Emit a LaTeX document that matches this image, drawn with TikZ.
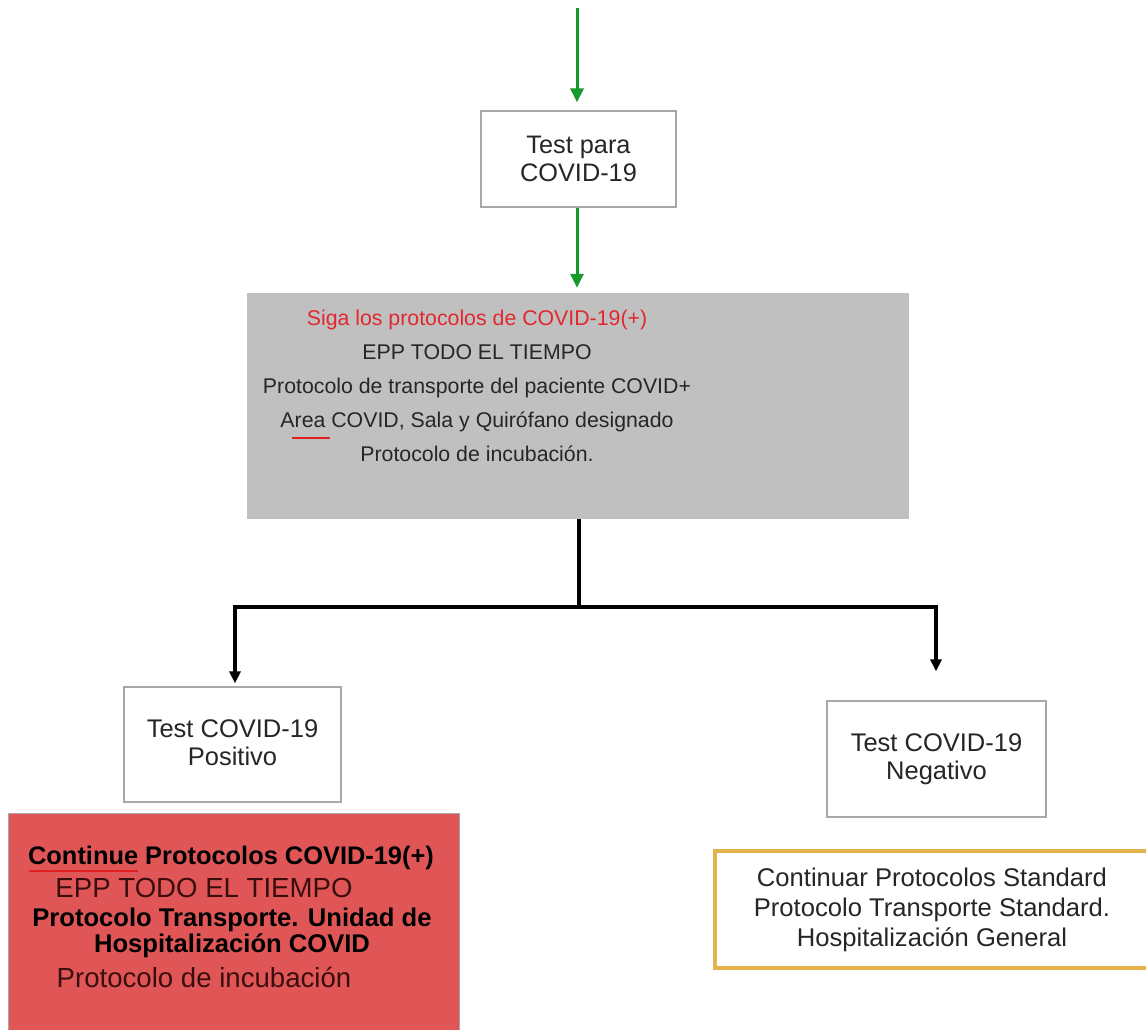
\documentclass[tikz,border=0pt]{standalone}
\usepackage{fontspec}
\setmainfont{Liberation Sans}
\usetikzlibrary{arrows.meta}
\definecolor{arrowgreen}{HTML}{17992C}
\definecolor{boxgray}{HTML}{C0C0C0}
\definecolor{boxred}{HTML}{E05656}
\definecolor{boxgold}{HTML}{E3B44C}
\definecolor{edgegray}{HTML}{A8A8A8}
\definecolor{textred}{HTML}{E0282E}
\definecolor{darkredtext}{HTML}{3A0E0E}
\definecolor{squiggle}{HTML}{E02020}
\tikzset{
  whitebox/.style={draw=edgegray, line width=1.2pt, fill=white, minimum width=#1, inner sep=0pt},
  greenarrow/.style={draw=arrowgreen, line width=3pt, -{Triangle[width=13pt,length=14pt]}},
  blackline/.style={draw=black, line width=3.5pt},
  blackarrow/.style={draw=black, line width=3.5pt, -{Triangle[width=11pt,length=12pt]}},
  txt/.style={inner sep=0pt, align=center, text=#1},
  spell/.style={draw=squiggle, line width=1.5pt},
}
\begin{document}
\begin{tikzpicture}[x=1pt,y=-1pt]
\clip (0,0) rectangle (1146,1029);
\fill[white] (0,0) rectangle (1146,1029);

% boxes
\node[whitebox=195pt, minimum height=96pt] (t1) at (578.5,159) {};
\node[draw=none, fill=boxgray, minimum width=662pt, minimum height=226pt, inner sep=0pt] (gray) at (578,406) {};
\node[whitebox=217pt, minimum height=115pt] (pos) at (232.5,744.5) {};
\node[whitebox=219pt, minimum height=116pt] (neg) at (936.5,759) {};
\node[draw=edgegray, line width=1.2pt, fill=boxred, minimum width=451pt, minimum height=220pt, inner sep=0pt, anchor=north west] (red) at (8,813) {};
\node[draw=boxgold, line width=4pt, fill=white, minimum width=440pt, minimum height=117pt, inner sep=0pt, anchor=north west] (std) at (713,849) {};

% texts
\node[txt=black!85, font=\fontsize{25.3}{28}\selectfont] (t1txt) at (t1.center) {Test para\\COVID-19};
\node[txt=black!85, font=\fontsize{25.5}{28}\selectfont] (postxt) at ([yshift=2pt]pos.center) {Test COVID-19\\Positivo};
\node[txt=black!85, font=\fontsize{25.5}{28}\selectfont] (negtxt) at (neg.center) {Test COVID-19\\Negativo};

\node[txt=black!85, font=\fontsize{21.3}{34}\selectfont, anchor=north] (gtxt) at (477,310)
  {\textcolor{textred}{Siga los protocolos de COVID-19(+)}\\EPP TODO EL TIEMPO\\Protocolo de transporte del paciente COVID+\\Area COVID, Sala y Quirófano designado\\Protocolo de incubación.};

\node[txt=black, font=\bfseries\fontsize{25.4}{26}\selectfont] (r1) at (231,858) {Continue Protocolos COVID-19(+)};
\node[txt=darkredtext, font=\fontsize{27.6}{26}\selectfont] (r2) at (204,888) {EPP TODO EL TIEMPO};
\node[txt=black, font=\bfseries\fontsize{25.6}{26}\selectfont] (r3) at (232,933) {Protocolo Transporte. Unidad de\\Hospitalización COVID};
\node[txt=darkredtext, font=\fontsize{27.6}{26}\selectfont] (r4) at (204,977) {Protocolo de incubación};

\node[txt=black!85, font=\fontsize{25.6}{30}\selectfont] (stdtxt) at (932,910) {Continuar Protocolos Standard\\Protocolo Transporte Standard.\\Hospitalización General};

% spell-check underlines
\draw[spell] (292,438) -- (330,438);
\draw[spell] (29,871) -- (138,871);

% connectors
\coordinate (start) at (577,8);
\draw[greenarrow, shorten >=8pt] (start) -- (t1.north -| start);
\draw[greenarrow, shorten >=5pt] (t1.south -| start) -- (gray.north -| start);
\coordinate (split) at (579,607);
\draw[blackline] (gray.south -| split) -- (split);
\coordinate (lcorner) at (235,607);
\coordinate (rcorner) at (936,607);
\draw[blackline, line cap=rect] (lcorner) -- (rcorner);
\draw[blackarrow, shorten >=3pt] (lcorner) -- (pos.north -| lcorner);
\draw[blackarrow, shorten >=29pt] (rcorner) -- (neg.north -| rcorner);
\end{tikzpicture}
\end{document}
